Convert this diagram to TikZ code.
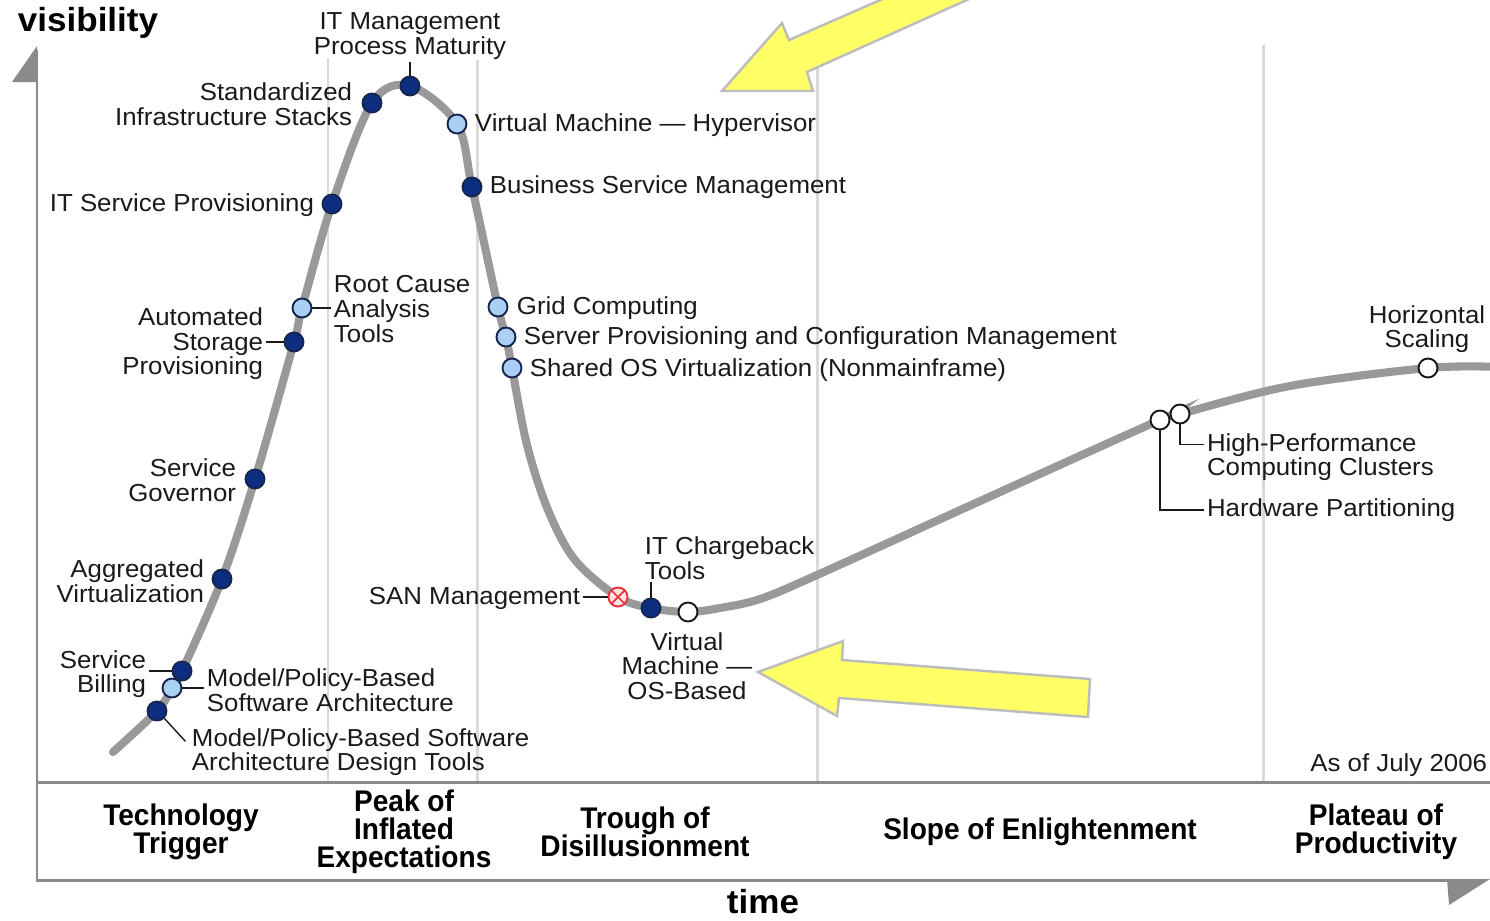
\documentclass[tikz,border=0pt]{standalone}
\usepackage{fontspec}
\setmainfont[FakeStretch=1.05]{Liberation Sans}
\newfontfamily\phasefont[FakeStretch=0.94]{Liberation Sans}
\usepackage{tikz}
\usepackage{xcolor}
\usetikzlibrary{shapes}
\definecolor{Curve Gray}{HTML}{999999}
\definecolor{Axis Gray}{HTML}{8A8A8A}
\definecolor{Phase Gray}{HTML}{DADADA}
\definecolor{Dot Navy}{HTML}{0D2E80}
\definecolor{Dot Sky}{HTML}{A9CFF2}
\definecolor{Dot Edge}{HTML}{16274F}
\definecolor{SAN Red}{HTML}{E8323C}
\definecolor{SAN Pink}{HTML}{FFE4E4}
\definecolor{Arrow Yellow}{HTML}{FFFF66}
\definecolor{Arrow Edge}{HTML}{BDBDBD}
\definecolor{Ink}{HTML}{1A1A1A}

\tikzset{
    dotdark/.style={circle, draw=Dot Edge, fill=Dot Navy, line width=1.1pt, minimum size=0.38cm, inner sep=0pt},
    dotsky/.style={dotdark, fill=Dot Sky},
    dotwhite/.style={dotdark, draw=Ink, fill=white},
    dotsan/.style={dotdark, draw=SAN Red, fill=SAN Pink,
        path picture={\draw[SAN Red, line width=1pt]
            (path picture bounding box.north west) -- (path picture bounding box.south east)
            (path picture bounding box.north east) -- (path picture bounding box.south west);}},
    lbl/.style={text=Ink, inner sep=1.5pt, font=\fontsize{14}{14}\selectfont},
    phase/.style={text=black, align=center, font=\phasefont\bfseries\fontsize{17}{16}\selectfont},
    axislabel/.style={text=black, inner sep=1pt, font=\bfseries\fontsize{19}{19}\selectfont},
    conn/.style={draw=Ink, line width=0.8pt},
    bigarrow/.style={fill=Arrow Yellow, draw=Arrow Edge, line width=1.4pt, line join=miter}
}

\begin{document}
\begin{tikzpicture}[x=0.02cm, y=-0.02cm]
    \useasboundingbox (0,0) rectangle (1490,920);

    % Phase separators
    \foreach \x/\top in {328/58, 477/60, 817/60, 1263/45} {
        \draw[Phase Gray, line width=1.7pt] (\x,\top) -- (\x,782);
    }

    % Axes and the band with the phase names
    \draw[Axis Gray, line width=1.7pt] (37,50) -- (37,880) -- (1452,880);
    \draw[Axis Gray, line width=1.7pt] (37,782) -- (1490,782);
    \fill[Axis Gray] (37,46) -- (12,82) -- (38,82) -- cycle;
    \fill[Axis Gray] (1490,879) -- (1447,879) -- (1449,905) -- cycle;

    % The hype curve
    \draw[Curve Gray, line width=4.6pt, line cap=round] plot[smooth, tension=0.55] coordinates {
        (113,752) (157,711) (172,688) (182,671) (222,579) (255,479) (294,342) (302,308)
        (332,204) (372,103) (410,86) (457,124) (472,187) (498,307) (506,337) (512,368)
        (527,445) (548,510) (575,560) (618,597) (651,608) (688,612) (720,608) (760,599)
        (817,575) (1000,492) (1160,420) (1180,414) (1290,386) (1428,368) (1500,367)
    };

    % Technologies on the curve
    \foreach \name/\kind/\px/\py in {
        mpd/dotdark/157/711, mpa/dotsky/172/688, sbl/dotdark/182/671,
        agv/dotdark/222/579, sgv/dotdark/255/479, asp/dotdark/294/342,
        rca/dotsky/302/308, itsp/dotdark/332/204, sis/dotdark/372/103,
        itm/dotdark/410/86, vmh/dotsky/457/124, bsm/dotdark/472/187,
        grid/dotsky/498/307, spcm/dotsky/506/337, sosv/dotsky/512/368,
        san/dotsan/618/597, itc/dotdark/651/608, vmos/dotwhite/688/612,
        hwp/dotwhite/1160/420, hpc/dotwhite/1180/414, hsc/dotwhite/1428/368
    } {
        \node[\kind] (\name) at (\px,\py) {};
    }

    % Labels
    \node[axislabel] (vislabel) at (88,23) {visibility};
    \node[axislabel] (timelabel) at (763,902) {time};
    \node[lbl, align=center] (itmlabel) at (410,36) {IT Management\\Process Maturity};
    \node[lbl, align=right, anchor=east] (sislabel) at (355,104) {Standardized\\Infrastructure Stacks};
    \node[lbl, anchor=east] (itsplabel) at (317,205) {IT Service Provisioning};
    \node[lbl, align=left, anchor=west] (rcalabel) at (331,309) {Root Cause\\Analysis\\Tools};
    \node[lbl, align=right, anchor=east] (asplabel) at (266,344) {Automated\\Storage\\Provisioning};
    \node[lbl, align=right, anchor=east] (sgvlabel) at (239,480) {Service\\Governor};
    \node[lbl, align=right, anchor=east] (agvlabel) at (207,581) {Aggregated\\Virtualization};
    \node[lbl, align=right, anchor=east] (sbllabel) at (149,674) {Service\\Billing};
    \node[lbl, align=left, anchor=west] (mpalabel) at (204,690) {Model/Policy-Based\\Software Architecture};
    \node[lbl, align=left, anchor=west] (mpdlabel) at (189,752) {Model/Policy-Based Software\\Architecture Design Tools};
    \node[lbl, anchor=west] (vmhlabel) at (472,125) {Virtual Machine — Hypervisor};
    \node[lbl, anchor=west] (bsmlabel) at (487,187) {Business Service Management};
    \node[lbl, anchor=west] (gridlabel) at (514,308) {Grid Computing};
    \node[lbl, anchor=west] (spcmlabel) at (521,338) {Server Provisioning and Configuration Management};
    \node[lbl, anchor=west] (sosvlabel) at (527,370) {Shared OS Virtualization (Nonmainframe)};
    \node[lbl, anchor=east] (sanlabel) at (583,598) {SAN Management};
    \node[lbl, align=left, anchor=west] (itclabel) at (642,558) {IT Chargeback\\Tools};
    \node[lbl, align=center] (vmoslabel) at (687,666) {Virtual\\Machine —\\OS-Based};
    \node[lbl, align=center] (hsclabel) at (1427,329) {Horizontal\\Scaling};
    \node[lbl, align=left, anchor=west] (hpclabel) at (1204,457) {High-Performance\\Computing Clusters};
    \node[lbl, anchor=west] (hwplabel) at (1204,510) {Hardware Partitioning};
    \node[lbl, anchor=east] (asof) at (1490,765) {As of July 2006};

    % Leader lines
    \draw[conn] (itm.north) -- (itm.north |- itmlabel.south);
    \draw[conn] (rca.east) -- (rca.east -| rcalabel.west);
    \draw[conn] (asp.west) -- (asp.west -| asplabel.east);
    \draw[conn] (sbl.west) -- (sbl.west -| sbllabel.east);
    \draw[conn] (mpa.east) -- (mpa.east -| mpalabel.west);
    \draw[conn] (mpd.-45) -- ([xshift=-2pt, yshift=6pt]mpdlabel.west);
    \draw[conn] (san.west) -- (san.west -| sanlabel.east);
    \draw[conn] (itc.north) -- (itc.north |- itclabel.south);
    \draw[conn] (hpc.south) |- ([yshift=7pt]hpclabel.west);
    \draw[conn] (hwp.south) |- (hwplabel.west);

    % Phase names
    \node[phase] (trigger) at (181,832) {Technology\\Trigger};
    \node[phase] (peak) at (404,832) {Peak of\\Inflated\\Expectations};
    \node[phase] (trough) at (645,832) {Trough of\\Disillusionment};
    \node[phase] (slope) at (1040,832) {Slope of Enlightenment};
    \node[phase] (plateau) at (1376,832) {Plateau of\\Productivity};

    % Yellow pointers
    \draw[bigarrow] (722,91) -- (782,23) -- (789,40) -- (903,-10) -- (989,-10)
        -- (807,72) -- (813,91) -- cycle;
    \draw[bigarrow] (758,672) -- (843,641) -- (842,660) -- (1090,679) -- (1088,717)
        -- (839,698) -- (837,716) -- cycle;
\end{tikzpicture}
\end{document}
